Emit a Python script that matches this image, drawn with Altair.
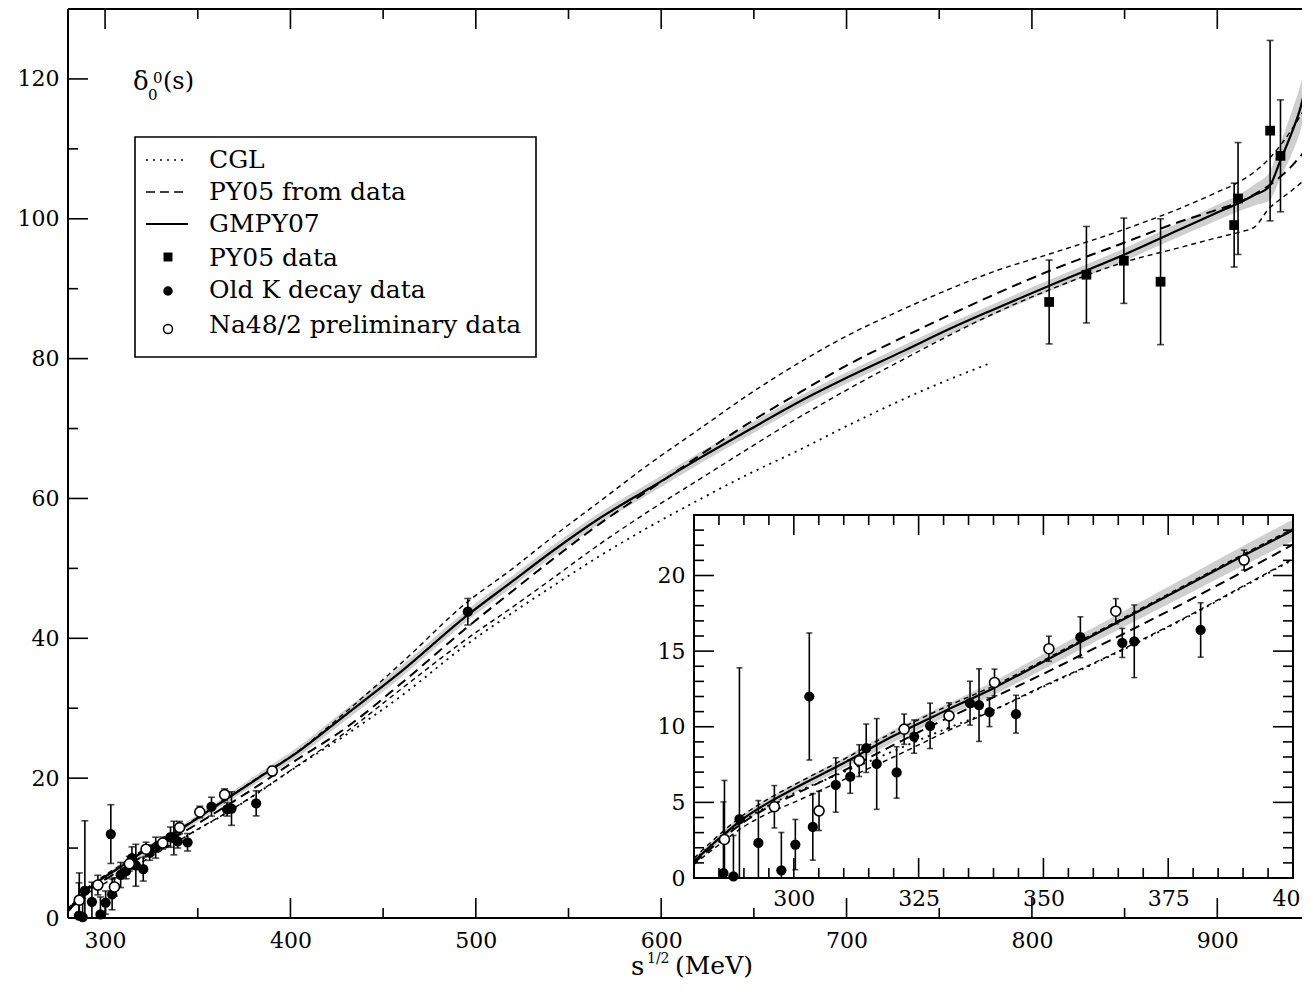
import altair as alt
import pandas as pd

# ---------------- data ----------------
curve_x = [280, 285, 290, 295, 300, 310, 320, 330, 340, 350, 360, 370, 380, 390, 400,
           430, 460, 495, 520, 540, 567, 594, 621, 648, 675, 702, 730, 756, 780, 810,
           850, 880, 900, 912, 920, 928, 934, 940, 945, 950]
gmpy07 = [1.1, 2.6, 3.95, 5.0, 5.9, 7.6, 9.4, 11.0, 12.55, 14.3, 16.05, 17.8, 19.55, 21.3, 23.0,
          29.1, 35.3, 43.2, 48.2, 52.2, 57.2, 61.5, 65.8, 69.9, 73.9, 77.5, 81.0, 84.3, 87.1, 90.5,
          94.9, 98.5, 100.9, 102.3, 103.4, 104.6, 108.3, 112.2, 116.0, 122.0]
gmpy07_err = [0.2, 0.25, 0.3, 0.3, 0.3, 0.35, 0.4, 0.4, 0.45, 0.5, 0.5, 0.55, 0.6, 0.65, 0.7,
              0.8, 0.8, 0.8, 0.8, 0.8, 0.8, 0.8, 0.8, 0.8, 0.8, 0.8, 0.8, 0.8, 0.8, 0.8,
              0.9, 1.0, 1.1, 1.2, 1.5, 2.0, 2.5, 3.0, 3.3, 3.6]
py05 = [1.0, 2.4, 3.7, 4.7, 5.5, 7.1, 8.8, 10.45, 11.95, 13.5, 15.15, 16.8, 18.5, 20.25, 22.05,
        27.2, 33.6, 41.5, 46.8, 51.0, 56.4, 61.3, 66.2, 70.9, 75.2, 79.3, 83.0, 86.3, 89.2, 92.6,
        96.6, 99.6, 101.3, 102.4, 103.5, 104.8, 106.0, 107.5, 109.0, 110.5]
py05_up = [1.3, 2.85, 4.2, 5.25, 6.15, 7.85, 9.65, 11.25, 12.7, 14.4, 16.15, 17.9, 19.65, 21.4, 23.1,
           29.5, 36.5, 45.1, 50.0, 54.2, 59.6, 65.0, 70.0, 75.0, 79.5, 83.5, 87.0, 90.0, 92.5, 95.0,
           98.5, 101.5, 103.8, 105.3, 106.7, 108.6, 110.5, 112.7, 114.8, 117.1]
py05_lo = [0.9, 2.2, 3.4, 4.3, 5.0, 6.5, 8.0, 9.6, 11.1, 12.7, 14.2, 15.8, 17.5, 19.3, 21.1,
           26.6, 32.8, 39.9, 44.5, 48.3, 53.5, 58.3, 62.8, 67.3, 71.7, 75.8, 79.8, 83.4, 86.5, 89.9,
           93.8, 95.9, 97.3, 98.1, 98.8, 101.5, 102.8, 104.0, 105.1, 106.2]

cgl_x = [280, 285, 290, 295, 300, 310, 320, 330, 340, 350, 360, 370, 380, 390, 400,
         430, 460, 495, 520, 540, 567, 594, 621, 648, 675, 702, 740, 777]
cgl = [1.2, 2.6, 3.8, 4.8, 5.6, 7.0, 8.4, 9.8, 11.1, 12.65, 14.15, 15.75, 17.45, 19.25, 21.05,
       26.2, 31.8, 39.1, 43.7, 47.2, 51.8, 56.0, 59.9, 63.6, 67.0, 70.6, 75.3, 79.3]

py05_data_x = [809.3, 829.4, 849.6, 869.4, 909.1, 911.2, 928.5, 934.1]
py05_data_y = [88.1, 92.0, 94.0, 91.0, 99.1, 102.9, 112.6, 109.0]
py05_data_e = [6.0, 6.9, 6.1, 9.0, 6.0, 8.0, 12.9, 8.0]

kdec_x = [285.9, 287.9, 289.1, 292.9, 297.5, 300.3, 303.1, 303.8, 308.4, 311.3, 314.5, 316.6,
          320.6, 324.1, 327.3, 335.3, 337.1, 339.2, 344.5, 357.4, 365.8, 368.2, 381.5, 495.7]
kdec_y = [0.33, 0.11, 3.9, 2.32, 0.51, 2.21, 12.0, 3.38, 6.15, 6.70, 8.58, 7.54,
          6.98, 9.35, 10.06, 11.56, 11.43, 10.96, 10.83, 15.92, 15.54, 15.65, 16.4, 43.8]
kdec_e = [4.7, 2.7, 10.0, 2.8, 2.5, 1.66, 4.2, 2.2, 1.8, 1.1, 1.6, 3.0,
          1.7, 1.1, 1.5, 1.45, 2.4, 0.95, 1.25, 1.35, 0.96, 2.4, 1.8, 1.9]

na48_x = [286.1, 296.1, 305.05, 313.1, 322.1, 331.1, 340.2, 351.1, 364.5, 390.2]
na48_y = [2.55, 4.71, 4.44, 7.76, 9.84, 10.72, 12.93, 15.16, 17.64, 21.02]
na48_e = [3.9, 1.4, 1.3, 1.05, 1.0, 0.86, 0.88, 0.83, 0.83, 0.66]

legend_labels = ["CGL", "PY05 from data", "GMPY07", "PY05 data",
                 "Old K decay data", "Na48/2 preliminary data"]

main_x_domain = [280, 945.7]
main_y_domain = [0, 130]
main_xlabels = [300, 400, 500, 600, 700, 800, 900]
main_xminor = [350, 450, 550, 650, 750, 850]
main_ylabels = [0, 20, 40, 60, 80, 100, 120]
main_yminor = [10, 30, 50, 70, 90, 110, 130]

in_x_domain = [280, 400]
in_y_domain = [0, 24]
in_xlabels = [300, 325, 350, 375, 400]
in_xminor = [v for v in range(285, 400, 5) if v % 25 != 0]
in_ylabels = [0, 5, 10, 15, 20]
in_yminor = [v for v in range(1, 24) if v % 5 != 0]

# ---------------- layout / style ----------------
FONT = "DejaVu Serif"
W, H = 1234, 909
IL, IR, IT, IB = 626, 1225, 506, 869
MAJ, MIN = 20, 10

curves_df = pd.DataFrame({"x": curve_x, "g": gmpy07, "ge": gmpy07_err,
                          "p": py05, "pu": py05_up, "pl": py05_lo})
cgl_df = pd.DataFrame({"x": cgl_x, "c": cgl})
sq_df = pd.DataFrame({"x": py05_data_x, "y": py05_data_y, "e": py05_data_e})
kd_df = pd.DataFrame({"x": kdec_x, "y": kdec_y, "e": kdec_e})
na_df = pd.DataFrame({"x": na48_x, "y": na48_y, "e": na48_e})
one = pd.DataFrame({"a": [0]})

xs_main = alt.Scale(domain=main_x_domain, nice=False, zero=False)
ys_main = alt.Scale(domain=main_y_domain, nice=False, zero=False, clamp=True)
xs_in = alt.Scale(domain=in_x_domain, range=[IL, IR], nice=False, zero=False)
ys_in = alt.Scale(domain=in_y_domain, range=[IB, IT], nice=False, zero=False, clamp=True)

lab = dict(labelFont=FONT, labelFontSize=22, labelColor="black", ticks=False,
           domain=False, grid=False, title=None, labelFlush=False, labelOverlap=False)
ax_mx = alt.Axis(orient="bottom", values=main_xlabels, labelPadding=12, **lab)
ax_my = alt.Axis(orient="left", values=main_ylabels, labelPadding=9, **lab)
ax_ix = alt.Axis(orient="bottom", offset=-(H - IB), values=in_xlabels, labelPadding=10, **lab)
ax_iy = alt.Axis(orient="left", offset=-IL, values=in_ylabels, labelPadding=9, **lab)


def build(xsc, ysc, axx, axy, inset):
    def X(f="x"):
        return alt.X(f"{f}:Q", scale=xsc, axis=axx)

    def Y(f):
        return alt.Y(f"{f}:Q", scale=ysc, axis=axy)

    cb = alt.Chart(curves_df)
    gb = alt.Chart(cgl_df)
    if inset:
        cb = cb.transform_filter("datum.x <= 400")
        gb = gb.transform_filter("datum.x <= 400")
    layers = []
    fr = pd.DataFrame({"x": [in_x_domain[0]], "x2": [in_x_domain[1]],
                       "y": [in_y_domain[0]], "y2": [in_y_domain[1]]})
    if inset:
        layers.append(alt.Chart(fr).mark_rect(fill="white").encode(
            x=X(), x2="x2:Q", y=Y("y"), y2="y2:Q"))
    clip = not inset
    layers.append(cb.transform_calculate(lo="datum.g - datum.ge", hi="datum.g + datum.ge")
                  .mark_area(color="#cfcfcf", interpolate="monotone", clip=clip)
                  .encode(x=X(), y=Y("lo"), y2="hi:Q"))
    layers.append(gb.mark_line(color="black", strokeWidth=1.8, strokeDash=[2, 5],
                               interpolate="monotone", clip=clip).encode(x=X(), y=Y("c")))
    for f in ["pu", "pl"]:
        layers.append(cb.mark_line(color="black", strokeWidth=1.4, strokeDash=[5, 4],
                                   interpolate="monotone", clip=clip).encode(x=X(), y=Y(f)))
    layers.append(cb.mark_line(color="black", strokeWidth=2, strokeDash=[10, 6],
                               interpolate="monotone", clip=clip).encode(x=X(), y=Y("p")))
    layers.append(cb.mark_line(color="black", strokeWidth=2.2,
                               interpolate="monotone", clip=clip).encode(x=X(), y=Y("g")))

    sets = [(kd_df, "filled"), (na_df, "open")]
    if not inset:
        sets = [(sq_df, "square")] + sets
    cap = 6 if inset else 7
    top = in_y_domain[1] if inset else main_y_domain[1]
    for df, kind in sets:
        b = alt.Chart(df)
        if inset:
            b = b.transform_filter("datum.x <= 400")
        b = b.transform_calculate(lo="datum.y - datum.e", hi="datum.y + datum.e")
        layers.append(b.mark_rule(color="black", strokeWidth=1.6)
                      .encode(x=X(), y=Y("lo"), y2="hi:Q"))
        layers.append(b.transform_filter("datum.lo >= 0")
                      .mark_tick(orient="horizontal", size=cap, thickness=1.6, color="black")
                      .encode(x=X(), y=Y("lo")))
        layers.append(b.transform_filter(f"datum.hi <= {top}")
                      .mark_tick(orient="horizontal", size=cap, thickness=1.6, color="black")
                      .encode(x=X(), y=Y("hi")))
        if kind == "square":
            m = b.mark_point(shape="square", filled=True, size=95, color="black", opacity=1)
        elif kind == "filled":
            m = b.mark_point(shape="circle", filled=True, size=105, color="black", opacity=1)
        else:
            m = b.mark_point(shape="circle", filled=True, fill="white", stroke="black",
                             strokeWidth=1.6, size=100, opacity=1)
        layers.append(m.encode(x=X(), y=Y("y")))

    # inward ticks
    if inset:
        xmaj, xmin, ymaj, ymin = in_xlabels[:-1], in_xminor, in_ylabels[1:], in_yminor
        bot, tp, lft, rgt = IB, IT, IL, IR
    else:
        xmaj, xmin, ymaj, ymin = main_xlabels, main_xminor, main_ylabels[1:], main_yminor
        bot, tp, lft, rgt = H, 0, 0, None
    for vals, ln in [(xmaj, MAJ), (xmin, MIN)]:
        d = alt.Chart(pd.DataFrame({"x": vals}))
        layers.append(d.mark_rule(color="black", strokeWidth=1.6).encode(
            x=X(), y=alt.value(bot), y2=alt.value(bot - ln)))
        layers.append(d.mark_rule(color="black", strokeWidth=1.6).encode(
            x=X(), y=alt.value(tp), y2=alt.value(tp + ln)))
    for vals, ln in [(ymaj, MAJ), (ymin, MIN)]:
        d = alt.Chart(pd.DataFrame({"y": vals}))
        layers.append(d.mark_rule(color="black", strokeWidth=1.6).encode(
            y=Y("y"), x=alt.value(lft), x2=alt.value(lft + ln)))
        if rgt is not None:
            layers.append(d.mark_rule(color="black", strokeWidth=1.6).encode(
                y=Y("y"), x=alt.value(rgt), x2=alt.value(rgt - ln)))
    if inset:
        layers.append(alt.Chart(fr).mark_rect(fill=None, stroke="black", strokeWidth=2).encode(
            x=X(), x2="x2:Q", y=Y("y"), y2="y2:Q"))
    return layers


main_layers = build(xs_main, ys_main, ax_mx, ax_my, False)

# ---------------- frame, legend & annotations ----------------
o = alt.Chart(one)
ann = []
# frame of the main plot (its right side lies beyond the picture)
ann.append(o.mark_rule(color="black", strokeWidth=2).encode(
    x=alt.value(0), x2=alt.value(W), y=alt.value(0)))
ann.append(o.mark_rule(color="black", strokeWidth=2).encode(
    x=alt.value(0), x2=alt.value(W), y=alt.value(H)))
ann.append(o.mark_rule(color="black", strokeWidth=2).encode(
    x=alt.value(0), y=alt.value(0), y2=alt.value(H)))

ann.append(o.mark_rect(fill="white", stroke="black", strokeWidth=1.6).encode(
    x=alt.value(67), x2=alt.value(468), y=alt.value(128), y2=alt.value(348)))
ann.append(o.mark_rule(color="black", strokeWidth=1.6, strokeDash=[2, 5]).encode(
    x=alt.value(78), x2=alt.value(120), y=alt.value(151)))
ann.append(o.mark_rule(color="black", strokeWidth=1.6, strokeDash=[9, 5]).encode(
    x=alt.value(78), x2=alt.value(120), y=alt.value(183)))
ann.append(o.mark_rule(color="black", strokeWidth=1.8).encode(
    x=alt.value(78), x2=alt.value(120), y=alt.value(215)))
ann.append(o.mark_point(shape="square", filled=True, size=80, color="black", opacity=1).encode(
    x=alt.value(100), y=alt.value(248)))
ann.append(o.mark_point(shape="circle", filled=True, size=90, color="black", opacity=1).encode(
    x=alt.value(100), y=alt.value(282)))
ann.append(o.mark_point(shape="circle", filled=True, fill="white", stroke="black",
                        strokeWidth=1.5, size=80, opacity=1).encode(
    x=alt.value(100), y=alt.value(320)))
for lbl, yb in zip(legend_labels, [159, 191, 223, 257, 289, 324]):
    ann.append(o.mark_text(text=lbl, font=FONT, fontSize=25, align="left",
                           baseline="alphabetic", color="black").encode(
        x=alt.value(141), y=alt.value(yb)))


def txt(s, x, y, size, align="left"):
    return o.mark_text(text=s, font=FONT, fontSize=size, align=align,
                       baseline="alphabetic", color="black").encode(
        x=alt.value(x), y=alt.value(y))


ann += [txt("δ", 65, 81, 26), txt("0", 80, 91, 15), txt("0", 85, 74, 15),
        txt("(s)", 95, 80, 24)]
ann += [txt("s", 563, 966, 26), txt("1/2", 579, 954, 14), txt("(MeV)", 607, 965, 25)]

main = alt.layer(*(main_layers + ann))
inset = alt.layer(*build(xs_in, ys_in, ax_ix, ax_iy, True))

chart = (alt.layer(main, inset)
         .resolve_scale(x="independent", y="independent")
         .properties(width=W, height=H,
                     autosize=alt.AutoSizeParams(type="none"),
                     padding={"left": 60, "top": 1, "right": 0, "bottom": 63},
                     background="white")
         .configure_view(stroke=None))

chart.save("out.html", embed_options={"renderer": "svg", "actions": False})
